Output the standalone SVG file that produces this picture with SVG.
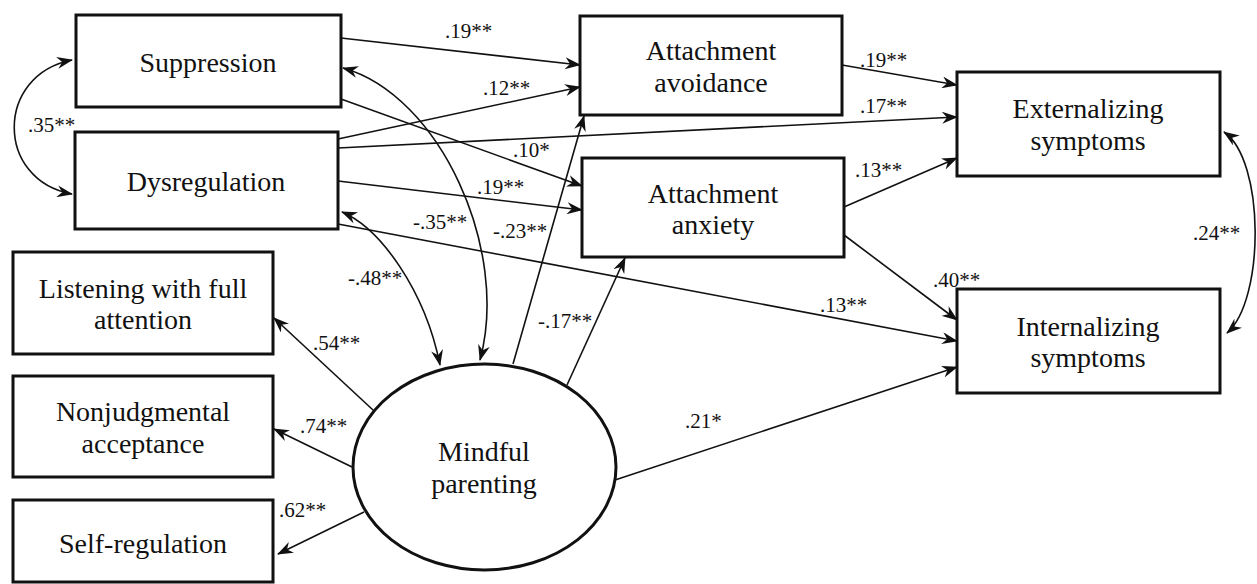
<svg xmlns="http://www.w3.org/2000/svg" width="1257" height="584" viewBox="0 0 1257 584">
<style>
.box{fill:#fff;stroke:#111;stroke-width:3}
.t{font-size:28px;fill:#111;text-anchor:middle}
.l{font-size:21px;fill:#111}
.c{fill:none;stroke:#111;stroke-width:1.6}
</style>
<defs>
<marker id="ah" viewBox="0 0 16 12" refX="15" refY="6" markerWidth="16" markerHeight="12" orient="auto-start-reverse" markerUnits="userSpaceOnUse">
<path d="M0,0 L16,6 L0,12 L5,6 z" fill="#111"/>
</marker>
</defs>
<rect width="1257" height="584" fill="#fff"/>
<g font-family="Liberation Serif, Times New Roman, serif">
<g id="connectors">
<path class="c" marker-end="url(#ah)" d="M341,38 L580,65"/>
<path class="c" marker-end="url(#ah)" d="M338,139 L580,87"/>
<path class="c" marker-end="url(#ah)" d="M338,148 L957,117"/>
<path class="c" marker-end="url(#ah)" d="M341,99 L582,186"/>
<path class="c" marker-end="url(#ah)" d="M338,181 L582,210"/>
<path class="c" marker-end="url(#ah)" d="M338,224 L957,341"/>
<path class="c" marker-end="url(#ah)" d="M842,65 L957,85"/>
<path class="c" marker-end="url(#ah)" d="M844,207 L957,158"/>
<path class="c" marker-end="url(#ah)" d="M844,235 L957,320"/>
<path class="c" marker-end="url(#ah)" d="M615,480 L957,367"/>
<path class="c" marker-end="url(#ah)" d="M513,364 L584,116"/>
<path class="c" marker-end="url(#ah)" d="M567,385 L625,258"/>
<path class="c" marker-end="url(#ah)" d="M373,410 L274,318"/>
<path class="c" marker-end="url(#ah)" d="M352,467 L274,429"/>
<path class="c" marker-end="url(#ah)" d="M364,512 L278,554"/>
<path class="c" marker-start="url(#ah)" marker-end="url(#ah)" d="M72,60 C-5,75 -5,180 72,194"/>
<path class="c" marker-start="url(#ah)" marker-end="url(#ah)" d="M342,212 C380,228 425,290 440,365"/>
<path class="c" marker-start="url(#ah)" marker-end="url(#ah)" d="M343,68 C440,95 510,250 480,360"/>
<path class="c" marker-start="url(#ah)" marker-end="url(#ah)" d="M1224,132 C1265,160 1265,300 1227,333"/>
<text class="l" x="445" y="38">.19**</text>
<text class="l" x="483" y="95">.12**</text>
<text class="l" x="513" y="157">.10*</text>
<text class="l" x="477" y="194">.19**</text>
<text class="l" x="413" y="229">-.35**</text>
<text class="l" x="493" y="238">-.23**</text>
<text class="l" x="348" y="285">-.48**</text>
<text class="l" x="538" y="328">-.17**</text>
<text class="l" x="313" y="350">.54**</text>
<text class="l" x="300" y="433">.74**</text>
<text class="l" x="279" y="517">.62**</text>
<text class="l" x="685" y="428">.21*</text>
<text class="l" x="860" y="67">.19**</text>
<text class="l" x="860" y="113">.17**</text>
<text class="l" x="855" y="177">.13**</text>
<text class="l" x="1193" y="240">.24**</text>
<text class="l" x="933" y="287">.40**</text>
<text class="l" x="820" y="312">.13**</text>
<text class="l" x="28" y="132">.35**</text>
</g>
<g id="suppression"><rect class="box" x="76" y="15" width="265" height="92"/><text class="t" x="208" y="72">Suppression</text></g>
<g id="dysregulation"><rect class="box" x="75" y="132" width="263" height="97"/><text class="t" x="206" y="191">Dysregulation</text></g>
<g id="attachment-avoidance"><rect class="box" x="580" y="16" width="262" height="99"/><text class="t" x="711" y="60">Attachment</text><text class="t" x="711" y="92">avoidance</text></g>
<g id="attachment-anxiety"><rect class="box" x="582" y="158" width="262" height="99"/><text class="t" x="713" y="203">Attachment</text><text class="t" x="713" y="234">anxiety</text></g>
<g id="externalizing"><rect class="box" x="957" y="72" width="263" height="104"/><text class="t" x="1088" y="118">Externalizing</text><text class="t" x="1088" y="150">symptoms</text></g>
<g id="internalizing"><rect class="box" x="957" y="289" width="263" height="104"/><text class="t" x="1088" y="336">Internalizing</text><text class="t" x="1088" y="367">symptoms</text></g>
<g id="listening"><rect class="box" x="13" y="252" width="260" height="102"/><text class="t" x="143" y="298">Listening with full</text><text class="t" x="143" y="329">attention</text></g>
<g id="nonjudgmental"><rect class="box" x="13" y="376" width="260" height="101"/><text class="t" x="143" y="421">Nonjudgmental</text><text class="t" x="143" y="453">acceptance</text></g>
<g id="self-regulation"><rect class="box" x="13" y="500" width="260" height="82"/><text class="t" x="143" y="553">Self-regulation</text></g>
<g id="mindful-parenting"><ellipse class="box" cx="484.5" cy="467" rx="131.5" ry="103"/><text class="t" x="484" y="461">Mindful</text><text class="t" x="484" y="493">parenting</text></g>
</g>
</svg>
